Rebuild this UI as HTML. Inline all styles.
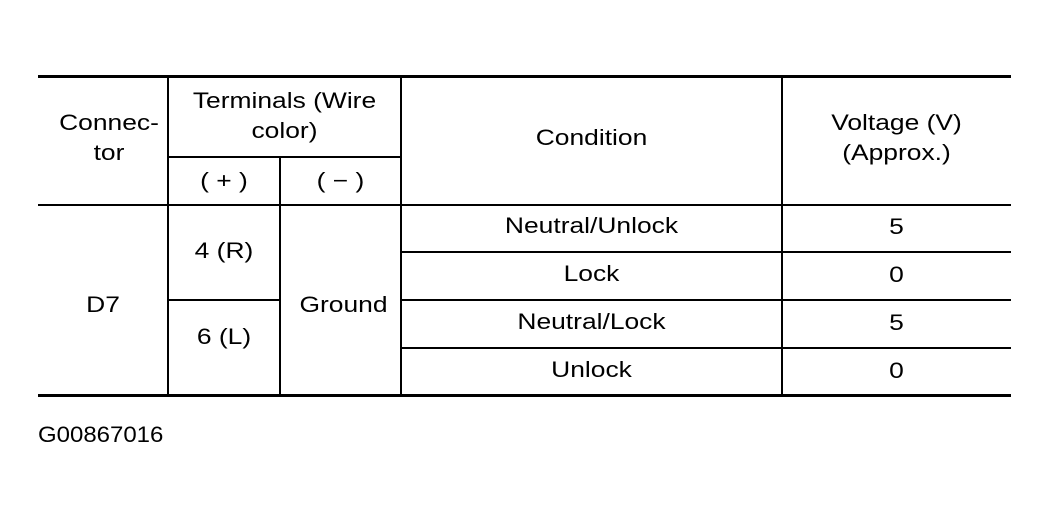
<!DOCTYPE html>
<html><head><style>
body{margin:0;width:1049px;height:517px;background:#fff;position:relative;overflow:hidden;font-family:"Liberation Sans",Arial,sans-serif;color:#000}
.h{position:absolute;background:#000;height:2px}
.v{position:absolute;background:#000;width:2px}
.t{position:absolute;font-size:22px;text-align:center;line-height:30px;white-space:nowrap;transform:scaleX(1.2);transform-origin:center}
</style></head><body>
<div class="h" style="left:38px;top:75px;width:973px;height:3px"></div>
<div class="h" style="left:38px;top:204px;width:973px"></div>
<div class="h" style="left:38px;top:394px;width:973px;height:3px"></div>
<div class="h" style="left:168px;top:156px;width:233px"></div>
<div class="h" style="left:168px;top:299px;width:112px"></div>
<div class="h" style="left:401px;top:251px;width:610px"></div>
<div class="h" style="left:401px;top:299px;width:610px"></div>
<div class="h" style="left:401px;top:347px;width:610px"></div>
<div class="v" style="left:167px;top:77px;height:318px"></div>
<div class="v" style="left:279px;top:156px;height:239px"></div>
<div class="v" style="left:400px;top:77px;height:318px"></div>
<div class="v" style="left:781px;top:77px;height:318px"></div>

<div class="t" style="left:44px;width:130px;top:108px">Connec-<br>tor</div>
<div class="t" style="left:168px;width:233px;top:86px">Terminals (Wire<br>color)</div>
<div class="t" style="left:168px;width:112px;top:166px">( + )</div>
<div class="t" style="left:280px;width:121px;top:166px">( − )</div>
<div class="t" style="left:401px;width:381px;top:123px">Condition</div>
<div class="t" style="left:782px;width:229px;top:108px">Voltage (V)<br>(Approx.)</div>

<div class="t" style="left:38px;width:130px;top:290px">D7</div>
<div class="t" style="left:168px;width:112px;top:236px">4 (R)</div>
<div class="t" style="left:168px;width:112px;top:322px">6 (L)</div>
<div class="t" style="left:283px;width:121px;top:290px">Ground</div>
<div class="t" style="left:401px;width:381px;top:211px">Neutral/Unlock</div>
<div class="t" style="left:401px;width:381px;top:259px">Lock</div>
<div class="t" style="left:401px;width:381px;top:307px">Neutral/Lock</div>
<div class="t" style="left:401px;width:381px;top:355px">Unlock</div>
<div class="t" style="left:782px;width:229px;top:212px">5</div>
<div class="t" style="left:782px;width:229px;top:260px">0</div>
<div class="t" style="left:782px;width:229px;top:308px">5</div>
<div class="t" style="left:782px;width:229px;top:356px">0</div>
<div class="t" style="left:38px;top:420px;text-align:left;transform-origin:left;transform:scaleX(1.09)">G00867016</div>
</body></html>
